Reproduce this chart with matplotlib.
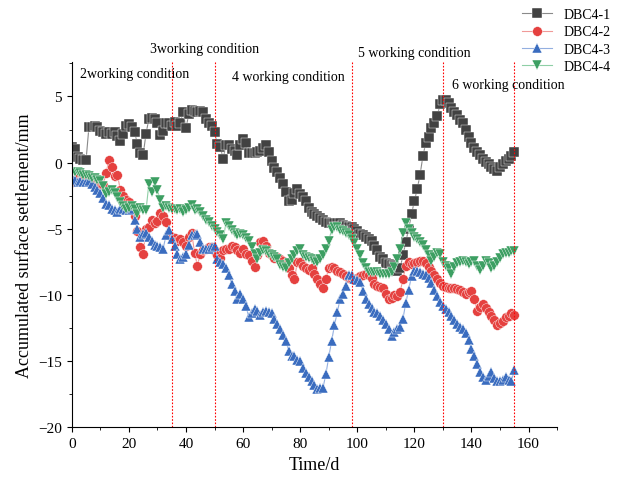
import numpy as np
import matplotlib
matplotlib.use("Agg")
import matplotlib.pyplot as plt
from matplotlib.ticker import MultipleLocator

plt.rcParams['font.family'] = ['Liberation Serif', 'DejaVu Serif']

days = np.arange(0, 156)

dbc4_1 = [1.2, 1.0, 0.4, 0.3, 0.2, 0.2, 2.7, 2.7, 2.8, 2.7,
          2.4, 2.3, 2.2, 2.3, 2.2, 2.3, 2.0, 1.6, 2.2, 2.8,
          2.9, 2.7, 2.3, 1.4, 0.7, 0.6, 2.2, 3.3, 3.4, 3.3,
          3.0, 2.1, 2.4, 3.0, 3.0, 2.8, 3.1, 2.8, 3.0, 3.85,
          2.6, 3.7, 4.0, 3.9, 3.8, 3.9, 3.8, 3.3, 3.0, 2.8,
          2.3, 1.4, 1.2, 0.3, 1.3, 1.3, 1.0, 0.9, 0.55, 1.3,
          1.8, 1.5, 0.7, 0.7, 0.7, 0.8, 0.9, 1.1, 1.3, 0.8,
          0.1, -0.4, -0.7, -1.2, -1.6, -2.2, -2.9, -2.8, -2.3, -2.0,
          -2.4, -2.6, -2.9, -3.4, -3.7, -3.9, -4.0, -4.2, -4.3, -4.5,
          -4.6, -4.6, -4.6, -4.6, -4.6, -4.7, -4.8, -4.9, -4.9, -5.0,
          -5.2, -5.4, -5.5, -5.6, -5.8, -5.9, -6.3, -6.6, -7.1, -7.3,
          -7.6, -7.65, -7.7, -7.8, -8.2, -8.0, -7.0, -6.0, -5.0, -3.9,
          -2.9, -2.0, -0.9, 0.5, 1.5, 1.9, 2.6, 3.0, 3.5, 4.4,
          4.7, 4.7, 4.5, 4.1, 3.8, 3.6, 3.2, 3.0, 2.45, 1.9,
          1.5, 1.1, 0.8, 0.55, 0.3, 0.05, -0.1, -0.3, -0.5, -0.6,
          -0.3, -0.1, 0.15, 0.3, 0.5, 0.8]

dbc4_2 = [-1.5, -1.3, -1.2, -1.4, -1.2, -1.3, -1.2, -1.4, -1.3, -1.5,
          -1.6, -1.7, -0.8, 0.2, -0.3, -1.0, -0.9, -2.1, -2.5, -2.8,
          -3.0, -3.4, -4.0, -5.2, -6.4, -6.9, -5.0, -4.9, -4.3, -4.6,
          -4.4, -3.8, -4.0, -4.5, -5.5, -5.6, -5.7, -5.9, -5.8, -6.0,
          -6.3, -5.6, -5.3, -6.8, -7.8, -6.9, -6.6, -6.5, -6.4, -6.4,
          -6.7, -7.0, -7.2, -6.6, -6.5, -6.5, -6.3, -6.4, -6.6, -6.8,
          -6.5, -6.9, -7.0, -7.4, -7.9, -7.0, -6.0, -5.9, -6.3, -6.8,
          -7.0, -7.2, -7.1, -7.3, -7.4, -7.6, -8.0, -8.5, -8.8, -7.5,
          -7.5, -7.8, -8.0, -8.1, -8.0, -8.4, -8.8, -9.2, -9.5, -8.8,
          -8.0, -7.9, -8.0, -8.2, -8.3, -8.4, -8.6, -8.7, -8.8, -8.8,
          -8.7, -8.6, -8.5, -8.4, -8.5, -8.7, -9.2, -9.3, -9.4, -9.5,
          -9.9, -10.3, -10.2, -10.0, -10.05, -9.8, -8.8, -7.8, -7.5, -7.65,
          -7.6, -7.5, -7.4, -7.4, -7.6, -7.9, -8.2, -8.5, -8.8, -9.1,
          -9.3, -9.4, -9.5, -9.5, -9.5, -9.55, -9.6, -9.8, -9.9, -9.8,
          -9.7, -10.3, -11.2, -10.9, -10.7, -11.0, -11.3, -11.6, -11.9, -12.3,
          -12.1, -11.95, -11.7, -11.6, -11.4, -11.5]

dbc4_3 = [-1.2, -1.3, -1.5, -1.4, -1.5, -1.5, -1.4, -1.6, -1.85, -2.1,
          -2.3, -2.7, -3.1, -3.2, -3.5, -3.6, -3.7, -3.5, -3.5, -3.6,
          -3.6, -3.5, -4.3, -5.0, -5.6, -5.4, -5.3, -5.6, -5.9, -6.2,
          -6.3, -6.4, -6.5, -5.5, -5.1, -5.8, -6.3, -6.9, -7.3, -7.1,
          -6.9, -6.2, -5.5, -5.5, -5.4, -6.0, -6.5, -6.5, -6.5, -6.4,
          -6.3, -7.3, -7.5, -7.65, -8.0, -8.5, -9.2, -9.7, -10.3, -9.9,
          -10.3, -10.8, -11.7, -11.4, -11.1, -11.2, -11.5, -11.3, -11.2, -11.3,
          -11.4, -11.8, -12.2, -12.6, -13.0, -13.5, -14.2, -14.6, -14.6, -14.9,
          -15.0, -15.5, -15.9, -16.2, -16.5, -16.8, -17.1, -17.0, -17.0, -16.0,
          -14.7, -13.5, -12.3, -11.3, -10.3, -9.9, -9.3, -8.5, -8.5, -8.8,
          -8.9, -9.0, -9.7, -10.3, -10.7, -11.0, -11.3, -11.4, -11.6, -11.9,
          -12.2, -12.6, -13.1, -12.8, -12.6, -12.4, -11.8, -10.6, -9.6, -8.6,
          -8.2, -8.2, -8.3, -8.4, -8.5, -8.7, -9.1, -9.6, -10.1, -10.5,
          -10.8, -11.1, -11.3, -11.6, -11.9, -12.2, -12.4, -12.6, -12.9, -13.4,
          -14.1, -14.6, -15.2, -15.8, -16.2, -16.4, -16.1, -15.85, -16.3, -16.5,
          -16.5, -16.4, -16.2, -16.4, -16.5, -15.7]

dbc4_4 = [-0.7, -0.7, -0.7, -0.8, -0.9, -0.95, -1.0, -1.2, -1.2, -1.3,
          -1.4, -1.8, -2.35, -2.2, -2.1, -2.3, -2.6, -3.0, -3.3, -3.5,
          -3.4, -3.3, -3.5, -3.9, -3.4, -3.6, -3.6, -1.6, -2.2, -1.5,
          -2.1, -2.8, -3.4, -3.3, -3.4, -3.5, -3.5, -3.6, -3.5, -3.7,
          -3.6, -3.4, -3.2, -3.6, -3.5, -3.7, -4.0, -4.3, -4.5, -4.8,
          -5.0, -5.25, -5.5, -5.75, -4.6, -4.8, -5.1, -5.3, -5.5, -5.4,
          -5.5, -5.7, -5.9, -6.4, -6.9, -7.3, -6.8, -6.6, -6.7, -6.9,
          -7.0, -7.1, -7.3, -7.7, -7.9, -8.0, -7.6, -7.3, -7.0, -6.7,
          -6.5, -7.0, -7.1, -7.2, -7.3, -7.4, -7.5, -7.3, -7.0, -6.5,
          -5.9, -5.1, -4.9, -4.9, -5.1, -5.2, -5.3, -5.5, -5.8, -6.1,
          -6.5, -7.0, -7.6, -8.0, -8.3, -8.3, -8.3, -8.3, -8.4, -8.4,
          -8.4, -8.4, -8.3, -7.9, -7.3, -6.5, -5.3, -4.6, -5.0, -5.3,
          -5.6, -5.8, -6.0, -6.2, -6.6, -7.0, -7.4, -7.1, -6.8, -6.9,
          -7.5, -7.8, -8.0, -8.4, -7.9, -7.6, -7.5, -7.4, -7.5, -7.65,
          -7.5, -7.4, -7.8, -8.15, -7.8, -7.4, -7.6, -8.0, -7.8, -7.5,
          -7.2, -6.9, -6.8, -6.8, -6.7, -6.65]

labels = ["DBC4-1", "DBC4-2", "DBC4-3", "DBC4-4"]
colors = ["#424242", "#e5413f", "#3a6cbf", "#3c9f62"]
line_colors = ["#8a8a8a", "#f09a98", "#93afe0", "#8fcfa6"]
markers = ["s", "o", "^", "v"]

stage_days = [35, 50, 98, 130, 155]
stage_texts = ["2working condition", "3working condition", "4 working condition",
               "5 working condition", "6 working condition"]
stage_pos = [(2.8, 6.7), (27.4, 8.6), (56, 6.5), (100.4, 8.3), (133.3, 5.9)]

fig = plt.figure(figsize=(6.19, 4.85), dpi=100)
ax = fig.add_axes([0.116, 0.117, 0.784, 0.753])

for ser, lab, c, lc, m in zip([dbc4_1, dbc4_2, dbc4_3, dbc4_4], labels, colors,
                              line_colors, markers):
    ax.plot(days, ser, color=lc, marker=m, markersize=7, lw=0.8,
            markerfacecolor=c, markeredgecolor="white", markeredgewidth=0.3,
            label=lab)

for d in stage_days:
    ax.axvline(d, color="red", ls=(0, (1.5, 1.5)), lw=0.8)

for txt, (x, y) in zip(stage_texts, stage_pos):
    ax.text(x, y, txt, fontsize=10, va="center", ha="left", clip_on=False)

ax.set_xlim(0, 170)
ax.set_ylim(-20, 7.6)
ax.xaxis.set_major_locator(MultipleLocator(20))
ax.xaxis.set_minor_locator(MultipleLocator(10))
ax.yaxis.set_major_locator(MultipleLocator(5))
ax.yaxis.set_minor_locator(MultipleLocator(2.5))
ax.tick_params(labelsize=11)
ax.spines["top"].set_visible(False)
ax.spines["right"].set_visible(False)
ax.set_xlabel("Time/d", fontsize=13)
ax.set_ylabel("Accumulated surface settlement/mm", fontsize=13)

fig.legend(loc="upper right", bbox_to_anchor=(1.0, 0.998), frameon=False,
           fontsize=10, handlelength=2.2, labelspacing=0.3, borderaxespad=0.2)

fig.savefig("out.png", dpi=100)
